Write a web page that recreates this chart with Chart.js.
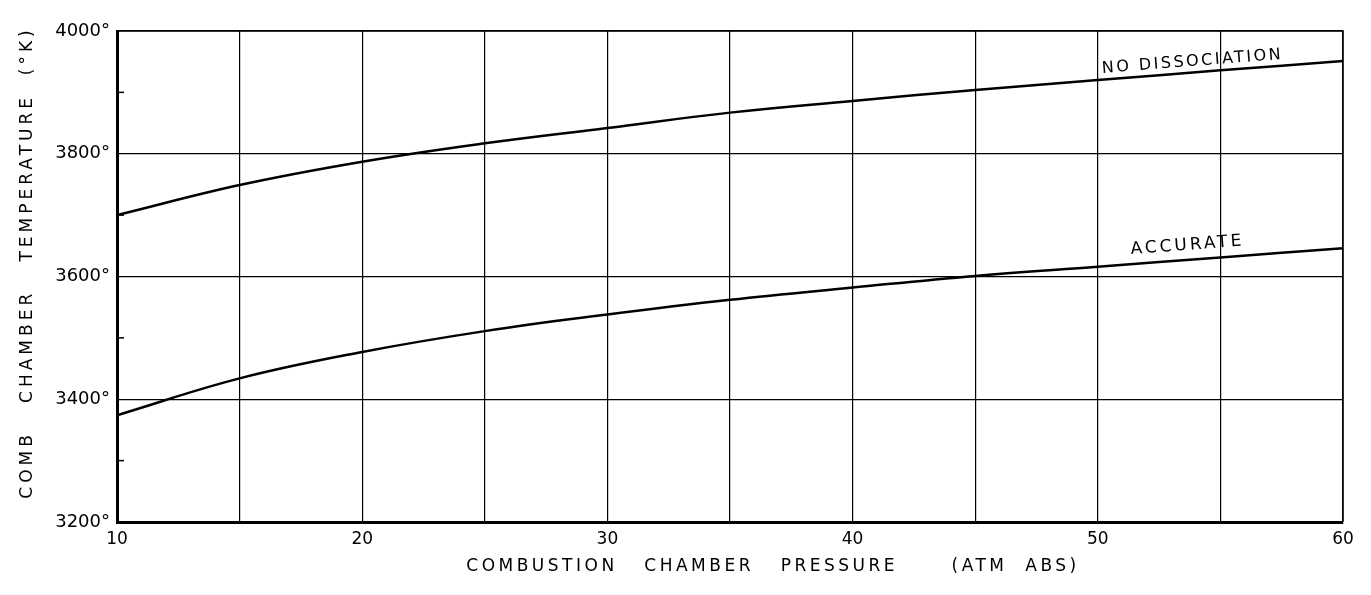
<!DOCTYPE html>
<html>
<head>
<meta charset="utf-8">
<script src="https://cdn.jsdelivr.net/npm/chart.js@4"></script>
<style>
  html, body { margin: 0; padding: 0; background: #fff; }
  #wrap { width: 1371px; height: 595px; }
</style>
</head>
<body>
<div id="wrap"><canvas id="chart" width="1371" height="595"></canvas></div>
<script>
// pressure (atm abs)
const pressure = [10, 15, 20, 25, 30, 35, 40, 45, 50, 55, 60];
// comb chamber temperature (deg K)
const noDissociation = [3700, 3749, 3787, 3817, 3842, 3867, 3886, 3904, 3920, 3936, 3951];
const accurate = [3374, 3434, 3477, 3511, 3538, 3562, 3582, 3601, 3616, 3631, 3646];
const minorTicks = [3300, 3500, 3700, 3900];
const xLabels = [10, 20, 30, 40, 50, 60];

const ink = "#000";
const font = "'DejaVu Sans', sans-serif";

function toPoints(ys) {
  return pressure.map((p, i) => ({ x: p, y: ys[i] }));
}

// titles, labels on the curves, minor ticks, top/right frame
const extras = {
  id: "extras",
  afterDraw(chart) {
    const { ctx, chartArea: a, scales } = chart;
    const xs = scales.x, ys = scales.y;
    ctx.save();
    ctx.strokeStyle = ink;
    ctx.fillStyle = ink;

    ctx.lineWidth = 1.5;
    ctx.beginPath();
    ctx.moveTo(a.left, a.top);
    ctx.lineTo(a.right, a.top);
    ctx.lineTo(a.right, a.bottom);
    ctx.stroke();

    minorTicks.forEach(v => {
      const y = ys.getPixelForValue(v);
      ctx.beginPath();
      ctx.moveTo(a.left, y);
      ctx.lineTo(a.left + 7, y);
      ctx.stroke();
    });

    ctx.font = "17px " + font;
    ctx.letterSpacing = "3.5px";
    ctx.textAlign = "center";
    ctx.textBaseline = "middle";
    ctx.fillText("COMBUSTION   CHAMBER   PRESSURE      (ATM  ABS)", (a.left + a.right) / 2 + 43, 567);

    ctx.letterSpacing = "4px";
    ctx.save();
    ctx.translate(28, (a.top + a.bottom) / 2 - 14);
    ctx.rotate(-Math.PI / 2);
    ctx.fillText("COMB   CHAMBER   TEMPERATURE  (°K)", 0, 0);
    ctx.restore();

    function curveLabel(text, series, at, lift) {
      const i = pressure.indexOf(50);
      const x1 = xs.getPixelForValue(50), y1 = ys.getPixelForValue(series[i]);
      const x2 = xs.getPixelForValue(60), y2 = ys.getPixelForValue(series[series.length - 1]);
      const ang = Math.atan2(y2 - y1, x2 - x1);
      const cx = xs.getPixelForValue(at);
      const cy = y1 + (cx - x1) * Math.tan(ang);
      ctx.save();
      ctx.translate(cx, cy);
      ctx.rotate(ang);
      ctx.textBaseline = "bottom";
      ctx.fillText(text, 0, -lift);
      ctx.restore();
    }
    ctx.font = "16px " + font;
    ctx.letterSpacing = "2.5px";
    curveLabel("NO DISSOCIATION", noDissociation, 53.9, 3);
    ctx.font = "17px " + font;
    ctx.letterSpacing = "3px";
    curveLabel("ACCURATE", accurate, 53.7, 6);
    ctx.restore();
  }
};

new Chart(document.getElementById("chart"), {
  type: "line",
  data: {
    datasets: [
      { label: "No dissociation", data: toPoints(noDissociation) },
      { label: "Accurate", data: toPoints(accurate) }
    ]
  },
  options: {
    responsive: false,
    animation: false,
    layout: { padding: { top: 31, right: 28, left: 0, bottom: 0 } },
    elements: {
      line: { borderColor: ink, borderWidth: 2.5, tension: 0.4, fill: false },
      point: { radius: 0 }
    },
    plugins: { legend: { display: false }, tooltip: { enabled: false } },
    scales: {
      x: {
        type: "linear",
        min: 10,
        max: 60,
        afterFit(s) { s.height = 73; },
        border: { color: ink, width: 3 },
        grid: { color: ink, lineWidth: 1.2, drawTicks: false },
        ticks: {
          stepSize: 5,
          padding: 7,
          color: ink,
          font: { family: font, size: 17 },
          callback: v => xLabels.includes(v) ? String(v) : ""
        }
      },
      y: {
        min: 3200,
        max: 4000,
        afterFit(s) { s.width = 117; },
        border: { color: ink, width: 3 },
        grid: { color: ink, lineWidth: 1.2, drawTicks: false },
        ticks: {
          stepSize: 200,
          padding: 7,
          color: ink,
          font: { family: font, size: 18 },
          callback: v => v + "°"
        }
      }
    }
  },
  plugins: [extras]
});
</script>
</body>
</html>
